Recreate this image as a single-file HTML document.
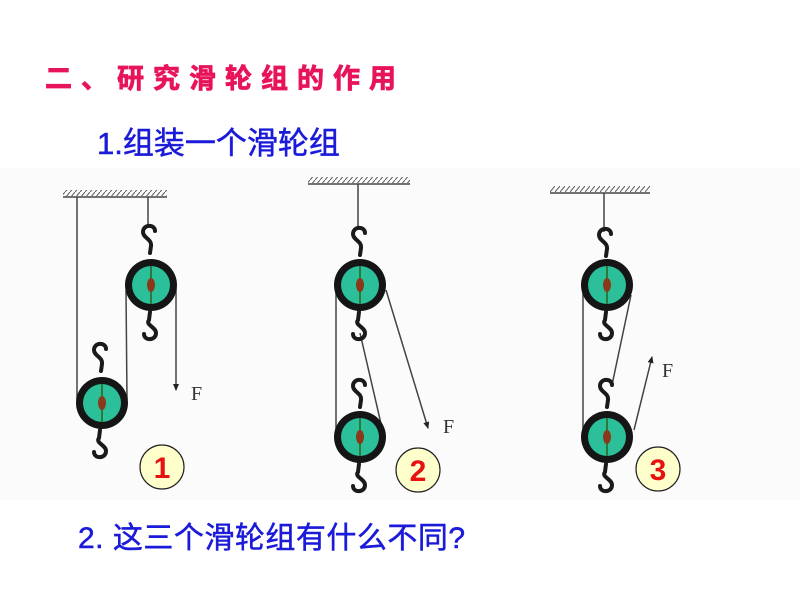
<!DOCTYPE html>
<html><head><meta charset="utf-8"><style>
html,body{margin:0;padding:0;background:#fff;width:800px;height:600px;overflow:hidden}
svg{display:block}
</style></head><body>
<svg width="800" height="600" viewBox="0 0 800 600" xmlns="http://www.w3.org/2000/svg">
<defs>
<pattern id="hatch" width="5" height="6" patternUnits="userSpaceOnUse">
<line x1="0" y1="6" x2="5" y2="0" stroke="#555" stroke-width="1"/>
</pattern>
<g id="pulley">
<circle r="26" fill="#151515"/>
<circle r="19" fill="#2bbf9a"/>
<line x1="0" y1="-19" x2="0" y2="19" stroke="#2a7a40" stroke-width="2"/>
<ellipse rx="4" ry="7" fill="#8a3a1a"/>
</g>
<g id="hook">
<path d="M6,-9 C6,-16 -6,-16 -6,-8 C-6,-2 3,-1 2,6 L1,13" fill="none" stroke="#1a1a1a" stroke-width="4" stroke-linecap="round"/>
</g>
<g id="hookd">
<path d="M0,-13 L-1,-5 C-5,0 6,2 6,8 C6,16 -6,16 -6,9" fill="none" stroke="#1a1a1a" stroke-width="4" stroke-linecap="round"/>
</g>
<marker id="arr" markerWidth="8" markerHeight="8" refX="6" refY="4" orient="auto" markerUnits="userSpaceOnUse">
<path d="M0,1 L7,4 L0,7 z" fill="#222"/>
</marker>
</defs>
<rect x="0" y="168" width="800" height="332" fill="#fbfbfb"/>
<text x="45" y="88" fill="#e8145a" font-family="'Liberation Sans','Noto Sans CJK SC',sans-serif" font-size="27" font-weight="bold" letter-spacing="9" stroke="#e8145a" stroke-width="0.8">二、研究滑轮组的作用</text>
<text x="97" y="154" fill="#1a1ad8" font-family="'Liberation Sans','Noto Sans CJK SC',sans-serif" font-size="31" stroke="#1a1ad8" stroke-width="0.5">1.组装一个滑轮组</text>
<text x="78" y="548" fill="#1a1ad8" font-family="'Liberation Sans','Noto Sans CJK SC',sans-serif" font-size="30" letter-spacing="0.5" stroke="#1a1ad8" stroke-width="0.5">2. 这三个滑轮组有什么不同?</text>

<g stroke="#444" stroke-width="1.5" fill="none">
<rect x="63" y="190" width="104" height="6" fill="url(#hatch)" stroke="none"/>
<line x1="63" y1="197" x2="167" y2="197"/>
<line x1="77" y1="197" x2="77" y2="400"/>
<line x1="148" y1="197" x2="148" y2="224"/>
<line x1="127" y1="400" x2="126" y2="290"/>
<line x1="176" y1="288" x2="176" y2="390" marker-end="url(#arr)"/>
<rect x="308" y="177" width="102" height="6" fill="url(#hatch)" stroke="none"/>
<line x1="308" y1="184" x2="410" y2="184"/>
<line x1="358" y1="184" x2="358" y2="228"/>
<line x1="336" y1="285" x2="336" y2="437"/>
<line x1="382" y1="428" x2="360" y2="333"/>
<line x1="386" y1="290" x2="428" y2="428" marker-end="url(#arr)"/>
<rect x="550" y="186" width="100" height="6" fill="url(#hatch)" stroke="none"/>
<line x1="550" y1="193" x2="650" y2="193"/>
<line x1="604" y1="193" x2="604" y2="232"/>
<line x1="583" y1="285" x2="583" y2="437"/>
<line x1="631" y1="295" x2="612" y2="385"/>
<line x1="634" y1="430" x2="652" y2="357" marker-end="url(#arr)"/>
</g>

<use href="#hook" x="149" y="240"/><use href="#pulley" x="151" y="285"/><use href="#hookd" x="150" y="325"/>
<use href="#hook" x="100" y="358"/><use href="#pulley" x="102" y="403"/><use href="#hookd" x="100" y="443"/>

<use href="#hook" x="359" y="242"/><use href="#pulley" x="360" y="285"/><use href="#hookd" x="359" y="325"/>
<use href="#hook" x="359" y="394"/><use href="#pulley" x="360" y="437"/><use href="#hookd" x="359" y="477"/>

<use href="#hook" x="605" y="243"/><use href="#pulley" x="607" y="285"/><use href="#hookd" x="606" y="325"/>
<use href="#hook" x="606" y="394"/><use href="#pulley" x="607" y="437"/><use href="#hookd" x="606" y="477"/>

<g font-family="'Liberation Serif',serif" font-size="20" fill="#333">
<text x="191" y="400">F</text>
<text x="443" y="433">F</text>
<text x="662" y="377">F</text>
</g>
<g font-family="'Liberation Sans',sans-serif" font-size="30" font-weight="bold" fill="#e81010" text-anchor="middle">
<circle cx="162" cy="467" r="22" fill="#ffffcc" stroke="#222" stroke-width="1.2"/>
<text x="162" y="478">1</text>
<circle cx="418" cy="470" r="22" fill="#ffffcc" stroke="#222" stroke-width="1.2"/>
<text x="418" y="481">2</text>
<circle cx="658" cy="469" r="22" fill="#ffffcc" stroke="#222" stroke-width="1.2"/>
<text x="658" y="480">3</text>
</g>
</svg>
</body></html>
